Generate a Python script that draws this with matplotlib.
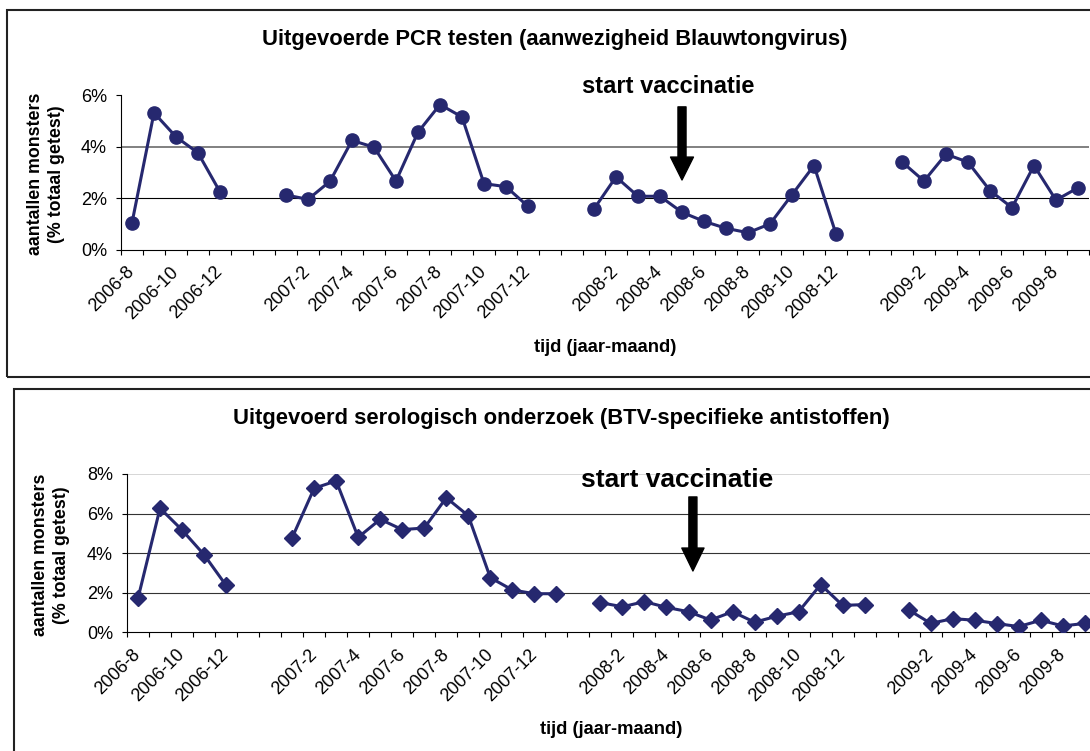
# %%
import numpy as np
import matplotlib.pyplot as plt
from matplotlib.patches import Rectangle

plt.rcParams["font.family"] = ["Liberation Sans", "DejaVu Sans"]

# categories (Excel sheet had two empty rows between years)
months = (["2006-8", "2006-9", "2006-10", "2006-11", "2006-12", "", ""]
          + ["2007-%d" % m for m in range(1, 13)] + ["", ""]
          + ["2008-%d" % m for m in range(1, 13)] + ["", ""]
          + ["2009-%d" % m for m in range(1, 10)])

# % of total tested
pcr = [1.05, 5.31, 4.38, 3.76, 2.25, None, None,
       2.13, 1.96, 2.66, 4.24, 3.98, 2.67, 4.56, 5.63, 5.15, 2.57, 2.45, 1.69, None, None,
       1.59, 2.83, 2.08, 2.08, 1.46, 1.11, 0.84, 0.67, 1.01, 2.14, 3.27, 0.62, None, None,
       3.41, 2.67, 3.71, 3.40, 2.30, 1.64, 3.27, 1.93, 2.41]
sero = [1.72, 6.27, 5.17, 3.92, 2.37, None, None,
        4.78, 7.28, 7.65, 4.80, 5.71, 5.19, 5.27, 6.80, 5.89, 2.76, 2.14, 1.95, 1.95, None,
        1.50, 1.29, 1.55, 1.26, 1.04, 0.62, 1.04, 0.51, 0.81, 1.04, 2.41, 1.36, 1.40, None,
        1.13, 0.45, 0.69, 0.61, 0.44, 0.29, 0.61, 0.32, 0.45]

pcr_ticks = [0, 2, 4, 6]
sero_ticks = [0, 2, 4, 6, 8]
vacc_month = "2008-5"

navy = "#26286f"
W, H = 1090, 751


def box(x0, y0, x1, y1):
    # pixel box -> figure fraction
    return [x0 / W, 1 - y1 / H, (x1 - x0) / W, (y1 - y0) / H]


def style_axes(ax, ticks):
    x = np.arange(len(months))
    ax.set_xlim(-0.5, len(months) - 0.5)
    ax.set_ylim(ticks[0], ticks[-1])
    for s in ["top", "right"]:
        ax.spines[s].set_visible(False)
    for s in ["left", "bottom"]:
        ax.spines[s].set_linewidth(0.8)
        ax.spines[s].set_color("black")
    ax.set_yticks(ticks)
    ax.set_yticklabels(["%d%%" % t for t in ticks], fontsize=13)
    ax.tick_params(axis="y", direction="out", length=3.6, width=0.8, pad=6.5)
    ax.set_xticks(np.arange(-0.5, len(months), 1))
    ax.set_xticklabels([])
    ax.set_xticks(x[::2], minor=True)
    ax.set_xticklabels(months[::2], minor=True, fontsize=13)
    ax.tick_params(axis="x", which="major", direction="out", length=3.6, width=0.8)
    ax.tick_params(axis="x", which="minor", length=0, pad=14)
    plt.setp(ax.get_xticklabels(minor=True), rotation=45, ha="right", va="center",
             rotation_mode="anchor")
    ax.set_facecolor("none")
    return x


# %%
fig = plt.figure(figsize=(W / 100, H / 100), dpi=100)
fig.set_facecolor("white")

fig.add_artist(Rectangle((7 / W, 1 - 377 / H), 1.2, 367 / H, transform=fig.transFigure,
                         fill=False, lw=1.5, ec="#222222"))
fig.add_artist(Rectangle((14 / W, -0.1), 1.2, 0.1 + 1 - 389 / H, transform=fig.transFigure,
                         fill=False, lw=1.5, ec="#222222"))

# top panel: PCR
ax1 = fig.add_axes(box(121, 95, 1089, 250))
x = style_axes(ax1, pcr_ticks)
ax1.axhline(2, color="black", lw=0.8, zorder=1)
ax1.axhline(4, color="#808080", lw=1.4, zorder=1)
y1 = np.array([np.nan if v is None else v for v in pcr])
ax1.plot(x, y1, color=navy, lw=2.2, marker="o", ms=9.5, mec=navy, zorder=3)

vx = months.index(vacc_month)
ax1.annotate("", xy=(vx, 2.71), xytext=(vx, 5.54),
             arrowprops=dict(facecolor="black", edgecolor="black", width=5.8,
                             headwidth=16.5, headlength=16.5, shrink=0), annotation_clip=False)
ax1.text(vx - 0.64, 6.08, "start vaccinatie", fontsize=17, fontweight="bold",
         ha="center", va="baseline", clip_on=False)

fig.text(555 / W, 1 - 45 / H, "Uitgevoerde PCR testen (aanwezigheid Blauwtongvirus)",
         fontsize=15.8, fontweight="bold", ha="center", va="baseline")
fig.text(605 / W, 1 - 352 / H, "tijd (jaar-maand)", fontsize=13.2, fontweight="bold",
         ha="center", va="baseline")
fig.text(46 / W, 1 - 174 / H, "aantallen monsters\n(% totaal getest)", fontsize=12.8,
         fontweight="bold", rotation=90, ha="center", va="center", linespacing=1.3,
         multialignment="center")

# bottom panel: serology
ax2 = fig.add_axes(box(127, 474, 127 + 44 * 22.02, 632.3))
x = style_axes(ax2, sero_ticks)
for t in [2, 4, 6]:
    ax2.axhline(t, color="#333333", lw=0.8, zorder=1)
ax2.axhline(8, color="#d0d0d0", lw=1.2, zorder=1)
y2 = np.array([np.nan if v is None else v for v in sero])
ax2.plot(x, y2, color=navy, lw=2.2, marker="D", ms=8.5, mec=navy, zorder=3)

ax2.annotate("", xy=(vx + 0.2, 3.10), xytext=(vx + 0.2, 6.84),
             arrowprops=dict(facecolor="black", edgecolor="black", width=5.8,
                             headwidth=16, headlength=16.5, shrink=0), annotation_clip=False)
ax2.text(vx - 0.5, 7.33, "start vaccinatie", fontsize=19, fontweight="bold",
         ha="center", va="baseline", clip_on=False)

fig.text(561 / W, 1 - 424 / H, "Uitgevoerd serologisch onderzoek (BTV-specifieke antistoffen)",
         fontsize=15.8, fontweight="bold", ha="center", va="baseline")
fig.text(611 / W, 1 - 734 / H, "tijd (jaar-maand)", fontsize=13.2, fontweight="bold",
         ha="center", va="baseline")
fig.text(51 / W, 1 - 555 / H, "aantallen monsters\n(% totaal getest)", fontsize=12.8,
         fontweight="bold", rotation=90, ha="center", va="center", linespacing=1.3,
         multialignment="center")

# %%
fig.savefig("out.png", dpi=100)
